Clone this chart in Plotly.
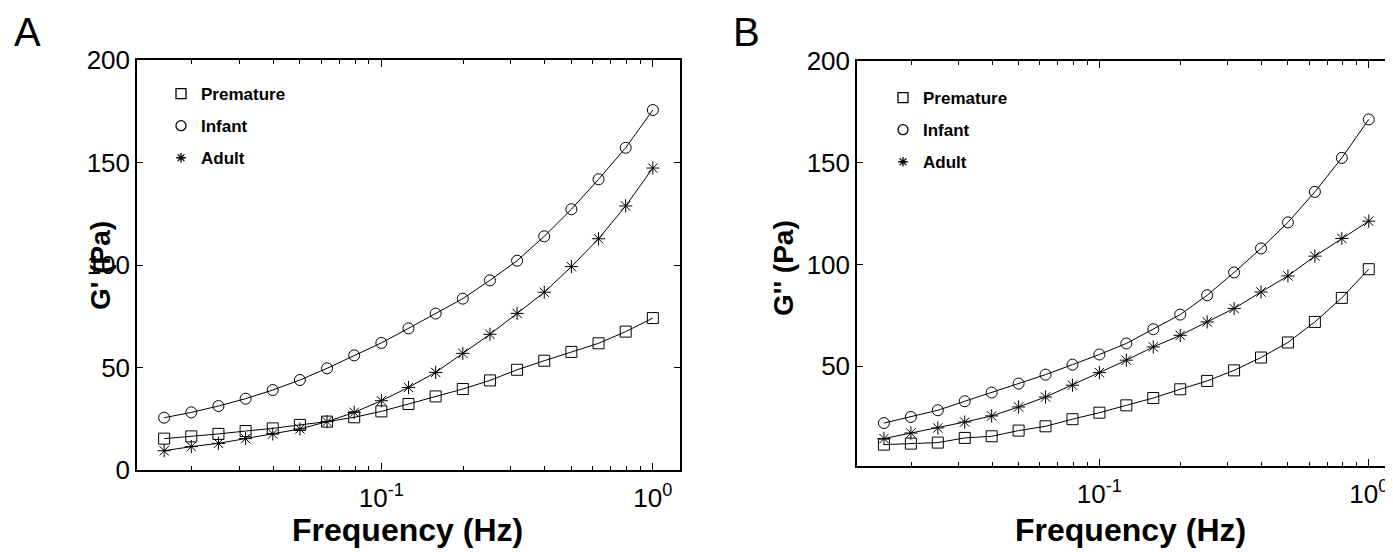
import plotly.graph_objects as go

# Page body has an 8px default margin; the figure is sized to fill the rest.
OFF = 8
W, H = 1393 - OFF, 552 - OFF

# Frequencies (Hz): 10 points per decade from 10^-1.8 to 10^0
exponents = [-1.8, -1.7, -1.6, -1.5, -1.4, -1.3, -1.2, -1.1, -1.0,
             -0.9, -0.8, -0.7, -0.6, -0.5, -0.4, -0.3, -0.2, -0.1, 0.0]
freq = [10 ** e for e in exponents]

# Panel A: G' (Pa)
gp_premature = [15.3, 16.4, 17.6, 19.0, 20.3, 22.0, 23.6, 25.7, 28.6, 32.2,
                35.9, 39.5, 43.7, 48.9, 53.3, 57.6, 61.8, 67.5, 74.1]
gp_infant = [25.5, 28.1, 31.2, 34.8, 39.0, 43.9, 49.6, 55.9, 62.0, 69.1,
             76.3, 83.6, 92.5, 102.1, 114.0, 127.2, 141.8, 157.2, 175.6]
gp_adult = [9.4, 11.4, 13.0, 15.3, 17.6, 20.0, 23.6, 28.1, 33.8, 40.3,
            47.6, 56.9, 66.2, 76.4, 86.7, 99.2, 112.8, 128.8, 147.3]

# Panel B: G'' (Pa)
gpp_premature = [11.5, 12.0, 12.5, 14.8, 15.6, 18.4, 20.5, 24.0, 27.2, 30.8,
                 34.4, 38.7, 42.8, 48.0, 54.3, 61.7, 71.8, 83.6, 97.7]
gpp_infant = [22.1, 25.1, 28.4, 32.8, 37.1, 41.5, 45.9, 50.8, 55.8, 61.2,
              68.2, 75.4, 84.9, 96.1, 107.9, 120.7, 135.7, 152.4, 171.3]
gpp_adult = [14.5, 17.2, 19.7, 22.6, 25.6, 30.0, 34.9, 40.7, 46.9, 53.0,
             59.5, 65.2, 71.8, 78.4, 86.5, 94.4, 104.1, 112.8, 121.3]

series_names = ["Premature", "Infant", "Adult"]
symbols = {"Premature": "square-open", "Infant": "circle-open", "Adult": "asterisk-open"}
sizes = {"Premature": 11, "Infant": 11, "Adult": 11}

x_major = [0.1, 1]
x_major_text = ["10<sup>-1</sup>", "10<sup>0</sup>"]
x_minor = [0.02, 0.03, 0.04, 0.05, 0.06, 0.07, 0.08, 0.09,
           0.2, 0.3, 0.4, 0.5, 0.6, 0.7, 0.8, 0.9]

FONT = "Liberation Sans, Arial, Helvetica, sans-serif"

fig = go.Figure()

panelA = {"Premature": gp_premature, "Infant": gp_infant, "Adult": gp_adult}
panelB = {"Premature": gpp_premature, "Infant": gpp_infant, "Adult": gpp_adult}

for panel, xa, ya, leg in [(panelA, "x", "y", "legend"), (panelB, "x2", "y2", "legend2")]:
    for name in series_names:
        fig.add_trace(go.Scatter(
            x=freq, y=panel[name], mode="lines+markers", xaxis=xa, yaxis=ya,
            line=dict(color="black", width=1),
            marker=dict(symbol=symbols[name], size=sizes[name], color="black",
                        line=dict(color="black", width=1)),
            showlegend=False, name=name))
    for name in series_names:
        fig.add_trace(go.Scatter(
            x=[None], y=[None], mode="markers", xaxis=xa, yaxis=ya,
            marker=dict(symbol=symbols[name], size=10 if name != "Adult" else 8,
                        color="black", line=dict(color="black", width=1.3)),
            name=name, legend=leg, legendgroup=leg + name, showlegend=True))

def px(x):
    return (x - OFF) / W

def py(y):
    return 1 - (y - OFF) / H

axis_common = dict(
    showline=True, linecolor="black", linewidth=1.5, showgrid=False, zeroline=False,
    ticks="inside", tickcolor="black", tickwidth=1, mirror="ticks", automargin=False,
    tickfont=dict(family=FONT, size=26, color="black"),
)

xcommon = dict(axis_common, type="log", tickvals=x_major, ticktext=x_major_text,
               ticklen=7, ticklabelstandoff=4,
               minor=dict(tickvals=x_minor, ticks="inside", ticklen=4,
                          tickcolor="black", tickwidth=1, showgrid=False))

def ann(text, x, y, size, bold=False, angle=0):
    return dict(text=text, x=px(x), y=py(y), xref="paper", yref="paper",
                xanchor="center", yanchor="middle", showarrow=False, textangle=angle,
                font=dict(family=FONT, size=size, color="black",
                          weight="bold" if bold else "normal"))

fig.update_layout(
    width=W, height=H, margin=dict(l=0, r=0, t=0, b=0, autoexpand=False),
    paper_bgcolor="white", plot_bgcolor="white",
    xaxis=dict(xcommon, domain=[px(137), px(680)], range=[-1.9, 0.1], anchor="y"),
    yaxis=dict(axis_common, domain=[py(470), py(60)], range=[0, 200],
               tickvals=[0, 50, 100, 150, 200], ticklen=6, anchor="x"),
    xaxis2=dict(xcommon, domain=[px(857), 1.0], range=[-1.9, 0.09], anchor="y2"),
    yaxis2=dict(axis_common, domain=[py(466), py(61)], range=[1, 200],
                tickvals=[50, 100, 150, 200], ticklen=6, anchor="x2", mirror=False),
    legend=dict(x=px(161), y=py(76), xanchor="left", yanchor="top",
                bgcolor="rgba(0,0,0,0)", borderwidth=0, tracegroupgap=7,
                font=dict(family=FONT, size=17, color="black", weight="bold")),
    legend2=dict(x=px(883), y=py(80), xanchor="left", yanchor="top",
                 bgcolor="rgba(0,0,0,0)", borderwidth=0, tracegroupgap=7,
                 font=dict(family=FONT, size=17, color="black", weight="bold")),
    annotations=[
        ann("A", 27, 32, 40),
        ann("B", 746, 32, 40),
        ann("Frequency (Hz)", 407, 530, 32, bold=True),
        ann("Frequency (Hz)", 1130, 530, 32, bold=True),
        ann("G' (Pa)", 100, 266, 28, bold=True, angle=-90),
        ann("G'' (Pa)", 783, 268, 28, bold=True, angle=-90),
    ],
)

fig.write_html("out.html")
